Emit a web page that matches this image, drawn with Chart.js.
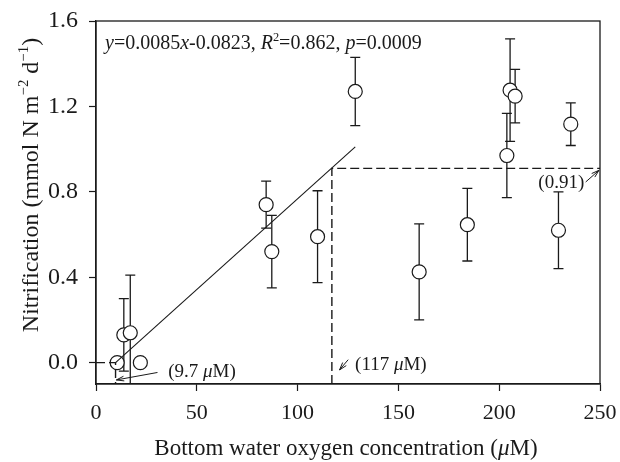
<!DOCTYPE html>
<html><head><meta charset="utf-8">
<script src="https://cdn.jsdelivr.net/npm/chart.js@4/dist/chart.umd.min.js"></script>
<style>html,body{margin:0;padding:0;background:#fff;}canvas{display:block;}</style>
</head><body>
<canvas id="c" width="620" height="462"></canvas>
<script>
// ---- data ----
const xTicks = [0, 50, 100, 150, 200, 250];
const yTicks = [0.0, 0.4, 0.8, 1.2, 1.6];
const oxygen = [10.5, 13.8, 17.0, 22.0, 84.4, 87.2, 109.9, 128.6, 160.3, 184.2, 203.8, 205.4, 207.9, 229.4, 235.5];
const nitrification = [0.00, 0.13, 0.14, 0.00, 0.74, 0.52, 0.59, 1.27, 0.425, 0.646, 0.97, 1.276, 1.248, 0.62, 1.117];
const errors = [0, 0.17, 0.27, 0, 0.11, 0.17, 0.215, 0.16, 0.225, 0.17, 0.197, 0.24, 0.125, 0.18, 0.10];
const fitSlope = 0.0085;
const fitIntercept = -0.0823;
const fitRange = [9.7, 128.6];
const thresholdLow = [9.7, 0];      // x-intercept of fit
const thresholdHigh = [117, 0.91];  // oxygen threshold, plateau
const xRange = [0, 250];
const yRange = [-0.1, 1.6];
// annotation labels: [text x, text y, arrow from x, from y, arrow to x, to y]
const annLow = [35.8, -0.04, 30.5, -0.046, 10.1, -0.081];
const annMid = [128.5, -0.005, 125.1, 0.014, 120.8, -0.034];
const annHigh = [242.2, 0.846, 242.9, 0.846, 249.5, 0.901];

const FONT = '"Liberation Serif", "Times New Roman", serif';
const INK = '#1a1a1a';

const points = oxygen.map((x, i) => ({x, y: nitrification[i]}));
const fitLine = fitRange.map(x => ({x, y: fitSlope * x + fitIntercept}));
const dashLow = [{x: xRange[0], y: thresholdLow[1]}, {x: thresholdLow[0], y: thresholdLow[1]}, {x: thresholdLow[0], y: yRange[0]}];
const dashHigh = [{x: thresholdHigh[0], y: yRange[0]}, {x: thresholdHigh[0], y: thresholdHigh[1]}, {x: xRange[1], y: thresholdHigh[1]}];

function richWidth(ctx, segs, size) {
  let w = 0;
  for (const s of segs) {
    const fs = s.sup ? size * 0.62 : size;
    ctx.font = (s.it ? 'italic ' : '') + fs + 'px ' + FONT;
    w += ctx.measureText(s.t).width;
  }
  return w;
}
function drawRich(ctx, segs, x, y, size, align) {
  const w = richWidth(ctx, segs, size);
  let cx = align === 'center' ? x - w / 2 : (align === 'right' ? x - w : x);
  ctx.textBaseline = 'alphabetic';
  ctx.textAlign = 'left';
  ctx.fillStyle = INK;
  for (const s of segs) {
    const fs = s.sup ? size * 0.62 : size;
    ctx.font = (s.it ? 'italic ' : '') + fs + 'px ' + FONT;
    ctx.fillText(s.t, cx, s.sup ? y - size * 0.42 : y);
    cx += ctx.measureText(s.t).width;
  }
}
function arrow(ctx, x1, y1, x2, y2) {
  ctx.beginPath();
  ctx.moveTo(x1, y1); ctx.lineTo(x2, y2);
  const a = Math.atan2(y2 - y1, x2 - x1);
  const L = 8, sp = 0.3;
  ctx.moveTo(x2, y2); ctx.lineTo(x2 - L * Math.cos(a - sp), y2 - L * Math.sin(a - sp));
  ctx.moveTo(x2, y2); ctx.lineTo(x2 - L * Math.cos(a + sp), y2 - L * Math.sin(a + sp));
  ctx.stroke();
}

const overlay = {
  id: 'overlay',
  beforeDatasetsDraw(chart) {
    const {ctx, chartArea: a, scales: {x, y}} = chart;
    ctx.save();
    ctx.beginPath(); ctx.rect(a.left, a.top, a.right - a.left, a.bottom - a.top); ctx.clip();
    ctx.strokeStyle = INK; ctx.lineWidth = 1.3;
    oxygen.forEach((ox, i) => {
      const e = errors[i];
      if (!e) return;
      const px = x.getPixelForValue(ox);
      const top = y.getPixelForValue(nitrification[i] + e);
      const bot = y.getPixelForValue(nitrification[i] - e);
      ctx.beginPath();
      ctx.moveTo(px, top); ctx.lineTo(px, bot);
      ctx.moveTo(px - 5, top); ctx.lineTo(px + 5, top);
      ctx.moveTo(px - 5, bot); ctx.lineTo(px + 5, bot);
      ctx.stroke();
    });
    ctx.restore();
  },
  afterDraw(chart) {
    const {ctx, chartArea: a, scales: {x, y}} = chart;
    ctx.save();
    ctx.strokeStyle = INK; ctx.lineWidth = 1.3;
    ctx.strokeRect(a.left, a.top, a.right - a.left, a.bottom - a.top);
    // annotations
    ctx.lineWidth = 1;
    const mu = (pre) => [{t: pre}, {t: 'μ', it: 1}, {t: 'M)'}];
    drawRich(ctx, mu('(9.7 '), x.getPixelForValue(annLow[0]), y.getPixelForValue(annLow[1]) + 6, 19, 'left');
    arrow(ctx, x.getPixelForValue(annLow[2]), y.getPixelForValue(annLow[3]), x.getPixelForValue(annLow[4]), y.getPixelForValue(annLow[5]));
    drawRich(ctx, mu('(117 '), x.getPixelForValue(annMid[0]), y.getPixelForValue(annMid[1]) + 6, 19, 'left');
    arrow(ctx, x.getPixelForValue(annMid[2]), y.getPixelForValue(annMid[3]), x.getPixelForValue(annMid[4]), y.getPixelForValue(annMid[5]));
    drawRich(ctx, [{t: '(0.91)'}], x.getPixelForValue(annHigh[0]), y.getPixelForValue(annHigh[1]) + 6, 19, 'right');
    arrow(ctx, x.getPixelForValue(annHigh[2]), y.getPixelForValue(annHigh[3]), x.getPixelForValue(annHigh[4]), y.getPixelForValue(annHigh[5]));
    // equation
    drawRich(ctx, [{t: 'y', it: 1}, {t: '=0.0085'}, {t: 'x', it: 1}, {t: '-0.0823, '}, {t: 'R', it: 1}, {t: '2', sup: 1}, {t: '=0.862, '}, {t: 'p', it: 1}, {t: '=0.0009'}], a.left + 9, a.top + 28, 20, 'left');
    // axis titles
    drawRich(ctx, [{t: 'Bottom water oxygen concentration ('}, {t: 'μ', it: 1}, {t: 'M)'}], (a.left + a.right) / 2 - 2, 455, 23, 'center');
    ctx.translate(38, 185);
    ctx.rotate(-Math.PI / 2);
    drawRich(ctx, [{t: 'Nitrification (mmol N m'}, {t: '−2', sup: 1}, {t: ' d'}, {t: '−1', sup: 1}, {t: ')'}], 0, 0, 24, 'center');
    ctx.restore();
  }
};

new Chart(document.getElementById('c'), {
  type: 'scatter',
  data: {
    datasets: [
      {data: points, order: 3, pointRadius: 7, pointHoverRadius: 7, pointBackgroundColor: '#fff', pointBorderColor: INK, pointBorderWidth: 1.2, showLine: false},
      {data: fitLine, order: 1, showLine: true, pointRadius: 0, borderColor: INK, borderWidth: 1.1, fill: false},
      {data: dashLow, order: 2, showLine: true, pointRadius: 0, borderColor: INK, borderWidth: 1.4, borderDash: [9, 4], fill: false},
      {data: dashHigh, order: 2, showLine: true, pointRadius: 0, borderColor: INK, borderWidth: 1.4, borderDash: [9, 4], fill: false}
    ]
  },
  options: {
    responsive: false,
    animation: false,
    events: [],
    layout: {padding: {left: 0, top: 21, right: 20, bottom: 0}},
    plugins: {legend: {display: false}, tooltip: {enabled: false}},
    scales: {
      x: {
        type: 'linear', min: xRange[0], max: xRange[1],
        afterFit(s) { s.height = 78; s.paddingLeft = 0; s.paddingRight = 0; },
        afterBuildTicks(s) { s.ticks = xTicks.map(v => ({value: v})); },
        grid: {display: true, drawOnChartArea: false, drawTicks: true, tickLength: 7, tickColor: INK, tickWidth: 1.2},
        border: {display: true, color: INK, width: 1.3},
        ticks: {color: INK, padding: 9, maxRotation: 0, font: {family: FONT, size: 22}, callback: v => String(v)}
      },
      y: {
        type: 'linear', min: yRange[0], max: yRange[1],
        afterFit(s) { s.width = 96; s.paddingTop = 0; s.paddingBottom = 0; },
        afterBuildTicks(s) { s.ticks = yTicks.map(v => ({value: v})); },
        grid: {display: true, drawOnChartArea: false, drawTicks: true, tickLength: 7, tickColor: INK, tickWidth: 1.2},
        border: {display: true, color: INK, width: 1.3},
        ticks: {color: INK, padding: 11, font: {family: FONT, size: 24}, callback: v => v.toFixed(1)}
      }
    }
  },
  plugins: [overlay]
});
</script>
</body></html>
